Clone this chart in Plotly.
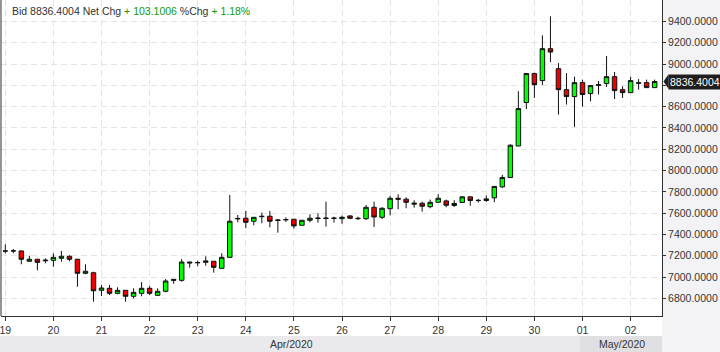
import pandas as pd
import plotly.graph_objects as go

# ---- data: 4-hour candles, 19 Apr 2020 00:00 -> 02 May 2020 12:00 ----
start_time = "2020-04-19 00:00"
bar_hours = 4
opens = [7245, 7245, 7245, 7148, 7167, 7152, 7157, 7176, 7195, 7167,
         7035, 7040, 6875, 6894, 6847, 6875, 6819, 6847, 6894, 6828,
         6866, 6978, 6969, 7141, 7134, 7138, 7148, 7082, 7185, 7546,
         7552, 7524, 7567, 7571, 7531, 7537, 7543, 7486, 7533, 7550,
         7550, 7550, 7548, 7574, 7552, 7548, 7655, 7561, 7642, 7740,
         7731, 7684, 7693, 7661, 7702, 7715, 7672, 7700, 7753, 7718,
         7719, 7744, 7847, 7935, 8231, 8639, 8911, 8845, 9145, 8957,
         8760, 8695, 8826, 8723, 8800, 8817, 8882, 8760, 8732, 8820,
         8826, 8779]
highs = [7308, 7263, 7248, 7200, 7170, 7176, 7223, 7245, 7204, 7170,
         7120, 7050, 6925, 6925, 6903, 6878, 6894, 6953, 6916, 6894,
         6981, 6981, 7169, 7143, 7153, 7195, 7150, 7223, 7771, 7583,
         7621, 7563, 7605, 7621, 7545, 7561, 7545, 7535, 7590, 7599,
         7708, 7567, 7577, 7580, 7567, 7677, 7708, 7655, 7762, 7778,
         7749, 7721, 7708, 7727, 7778, 7727, 7722, 7759, 7756, 7734,
         7766, 7855, 7959, 8247, 8745, 8913, 8920, 9270, 9448, 9010,
         8916, 8882, 8854, 8800, 8841, 9076, 8926, 8791, 8882, 8860,
         8854, 8854]
lows = [7223, 7223, 7120, 7146, 7063, 7129, 7097, 7144, 7148, 6909,
        7026, 6768, 6822, 6831, 6838, 6768, 6800, 6819, 6831, 6826,
        6856, 6937, 6956, 7088, 7101, 7106, 7041, 7078, 7179, 7514,
        7458, 7486, 7505, 7467, 7417, 7517, 7454, 7484, 7514, 7511,
        7473, 7511, 7501, 7543, 7536, 7536, 7470, 7545, 7580, 7637,
        7646, 7652, 7614, 7646, 7700, 7655, 7659, 7698, 7669, 7700,
        7706, 7703, 7837, 7933, 8229, 8578, 8682, 8804, 9019, 8526,
        8620, 8410, 8601, 8651, 8714, 8785, 8672, 8682, 8730, 8760,
        8775, 8776]
closes = [7244, 7246, 7167, 7167, 7138, 7158, 7185, 7195, 7167, 7035,
          7054, 6871, 6897, 6847, 6875, 6819, 6856, 6894, 6847, 6866,
          6963, 6970, 7141, 7133, 7136, 7151, 7091, 7185, 7524, 7550,
          7514, 7561, 7570, 7524, 7535, 7540, 7480, 7533, 7552, 7553,
          7553, 7553, 7561, 7552, 7549, 7655, 7564, 7646, 7740, 7731,
          7702, 7693, 7665, 7702, 7740, 7674, 7691, 7753, 7719, 7720,
          7734, 7851, 7935, 8238, 8582, 8911, 8807, 9145, 9113, 8760,
          8695, 8826, 8714, 8798, 8806, 8882, 8751, 8732, 8845, 8824,
          8779, 8836.4004]

bid_text = "8836.4004"
net_chg = "+ 103.1006"
pct_chg = "+ 1.18%"
y_ticks = [6800, 7000, 7200, 7400, 7600, 7800, 8000, 8200, 8400, 8600, 8800, 9000, 9200, 9400]
month_labels = ["Apr/2020", "May/2020"]

times = pd.date_range(start_time, periods=len(opens), freq=f"{bar_hours}h")

x0 = pd.Timestamp("2020-04-18 21:51")
x1 = pd.Timestamp("2020-05-02 15:40")
may1 = pd.Timestamp("2020-05-01 00:00")
y_range = [6634, 9602]

FONT = "Liberation Sans"
TXT = "#333333"

fig = go.Figure()
fig.add_trace(go.Candlestick(
    x=times, open=opens, high=highs, low=lows, close=closes,
    increasing=dict(fillcolor="#00ff00", line=dict(color="#111111", width=1)),
    decreasing=dict(fillcolor="#ee0000", line=dict(color="#111111", width=1)),
    whiskerwidth=0, showlegend=False, hoverinfo="skip"))

H_PLOT = 316.0
W_PLOT = 661.0
band_top = -20 / H_PLOT
band_bot = -36 / H_PLOT
band_mid = (band_top + band_bot) / 2

shapes = [
    # white strip behind x tick labels
    dict(type="rect", xref="paper", yref="paper", x0=-1 / W_PLOT, x1=1, y0=band_top, y1=0,
         fillcolor="white", line=dict(width=0), layer="below"),
    # month bands
    dict(type="rect", xref="paper", yref="paper", x0=-1 / W_PLOT, x1=(580 - 1) / W_PLOT,
         y0=band_bot, y1=band_top, fillcolor="#eaeaec", line=dict(width=0), layer="below"),
    dict(type="rect", xref="paper", yref="paper", x0=(580 - 1) / W_PLOT, x1=1,
         y0=band_bot, y1=band_top, fillcolor="#e0e0e2", line=dict(width=0), layer="below"),
    # price tag arrow
    dict(type="path", xref="paper", yref="y",
         path=f"M {1 + 1.5 / W_PLOT},{closes[-1]} L {1 + 6.5 / W_PLOT},{closes[-1] + 68} "
              f"L {1 + 6.5 / W_PLOT},{closes[-1] - 68} Z",
         fillcolor="#1e1e1e", line=dict(width=0)),
    # left border line
    dict(type="line", xref="paper", yref="paper", x0=0, x1=0, y0=0, y1=1,
         line=dict(color="#333333", width=1)),
]

apr_mid = x0 + (may1 - x0) / 2
may_mid = may1 + (x1 - may1) / 2

annotations = [
    dict(xref="paper", yref="paper", x=0, y=1, xanchor="left", yanchor="top",
         xshift=9, yshift=-3, showarrow=False, align="left",
         font=dict(family=FONT, size=10.5, color=TXT),
         text=f"Bid {bid_text} Net Chg <span style='color:#0b9a0b'>{net_chg}</span> "
              f"%Chg <span style='color:#0b9a0b'>{pct_chg}</span>"),
    dict(xref="x", yref="paper", x=apr_mid, y=band_mid, xanchor="center", yanchor="middle",
         showarrow=False, font=dict(family=FONT, size=10.5, color=TXT), text=month_labels[0]),
    dict(xref="x", yref="paper", x=may_mid, y=band_mid, xanchor="center", yanchor="middle",
         showarrow=False, font=dict(family=FONT, size=10.5, color=TXT), text=month_labels[1]),
    dict(xref="paper", yref="y", x=1, y=closes[-1], xanchor="left", yanchor="middle",
         xshift=6, showarrow=False, bgcolor="#1e1e1e", borderpad=1,
         font=dict(family=FONT, size=10.5, color="white"), text=f"{closes[-1]:.4f}"),
]

fig.update_layout(
    width=720, height=352,
    margin=dict(l=1, r=58, t=0, b=36, pad=0),
    paper_bgcolor="#f3f3f5", plot_bgcolor="white",
    font=dict(family=FONT, size=10.5, color=TXT),
    boxgap=0.2,
    showlegend=False,
    shapes=shapes, annotations=annotations,
    xaxis=dict(
        type="date", range=[x0, x1], rangeslider=dict(visible=False),
        dtick=86400000, tick0="2020-04-19", tickformat="%d",
        ticklabeloverflow="allow",
        showgrid=True, gridcolor="#e4e4e4", griddash="6px,4px", gridwidth=1,
        showline=True, linecolor="#333333", linewidth=1, mirror=False,
        ticks="outside", ticklen=4, tickcolor="#333333",
        tickfont=dict(family=FONT, size=10.5, color=TXT),
        zeroline=False, fixedrange=True),
    yaxis=dict(
        side="right", range=y_range, tickvals=y_ticks,
        ticktext=[f"{v:.4f}" for v in y_ticks],
        showgrid=True, gridcolor="#e4e4e4", griddash="6px,4px", gridwidth=1,
        showline=True, linecolor="#333333", linewidth=1,
        ticks="outside", ticklen=3, tickcolor="#333333",
        tickfont=dict(family=FONT, size=10.5, color=TXT),
        zeroline=False, fixedrange=True),
)

fig.write_html("out.html")
